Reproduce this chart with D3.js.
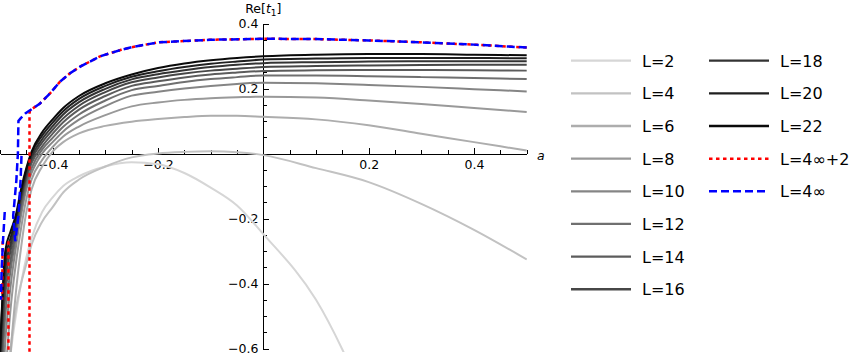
<!DOCTYPE html>
<meta charset="utf-8">
<style type="text/css">
body {
  margin: 0;
  background: #fff;
  font-family: "DejaVu Sans", sans-serif;
}

.axis path,
.axis line {
  fill: none;
  stroke: #000;
  stroke-width: 1px;
  shape-rendering: crispEdges;
}

.axis text {
  font-family: "DejaVu Sans", sans-serif;
  font-size: 12.5px;
  fill: #000;
}

.curve {
  fill: none;
  stroke-width: 2px;
}

.legend text {
  font-size: 16px;
  fill: #000;
}
</style>
<body>
</body>

<script src="https://cdn.jsdelivr.net/npm/d3@7"></script>
<script>
// shared a grid for the finite-L curves
var aGrid = [-0.5, -0.49, -0.48, -0.47, -0.46, -0.45, -0.44, -0.42, -0.4, -0.38, -0.35, -0.3,
             -0.25, -0.2, -0.15, -0.1, -0.05, 0, 0.1, 0.2, 0.3, 0.4, 0.5];

var L2  = [null, -0.8, -0.62, -0.5, -0.40, -0.32, -0.26, -0.18, -0.135, -0.10, -0.07, -0.04,
           -0.027, -0.033, -0.06, -0.105, -0.16, -0.248, -0.45, -0.78, null, null, null];
var L4  = [-0.9, -0.75, -0.6, -0.48, -0.40, -0.34, -0.28, -0.21, -0.165, -0.12, -0.08, -0.04,
           -0.012, 0.0, 0.005, 0.007, 0.004, -0.005, -0.045, -0.088, -0.155, -0.235, -0.326];
var L6  = [-1.2, -0.9, -0.62, -0.43, -0.29, -0.18, -0.11, -0.04, 0.006, 0.035, 0.062, 0.085,
           0.098, 0.106, 0.112, 0.116, 0.116, 0.113, 0.105, 0.087, 0.061, 0.035, 0.009];
var L8  = [-1.0, -0.7, -0.48, -0.34, -0.23, -0.14, -0.08, -0.02, 0.02, 0.052, 0.083, 0.118,
           0.145, 0.157, 0.165, 0.170, 0.173, 0.175, 0.172, 0.163, 0.152, 0.140, 0.128];
var L10 = [-0.9, -0.58, -0.41, -0.29, -0.19, -0.11, -0.06, 0.0, 0.035, 0.068, 0.104, 0.146,
           0.178, 0.190, 0.200, 0.208, 0.214, 0.218, 0.216, 0.211, 0.205, 0.198, 0.191];
var L12 = [-0.8, -0.50, -0.36, -0.26, -0.17, -0.095, -0.045, 0.012, 0.048, 0.082, 0.12, 0.163,
           0.195, 0.208, 0.220, 0.229, 0.235, 0.240, 0.240, 0.238, 0.235, 0.232, 0.229];
var L14 = [-0.75, -0.44, -0.33, -0.24, -0.155, -0.08, -0.03, 0.022, 0.061, 0.096, 0.135, 0.177,
           0.208, 0.222, 0.234, 0.243, 0.249, 0.254, 0.256, 0.257, 0.257, 0.256, 0.255];
var L16 = [-0.7, -0.40, -0.30, -0.225, -0.14, -0.07, -0.02, 0.034, 0.073, 0.108, 0.147, 0.189,
           0.219, 0.234, 0.246, 0.255, 0.261, 0.266, 0.269, 0.271, 0.272, 0.273, 0.273];
var L18 = [-0.65, -0.36, -0.28, -0.21, -0.13, -0.06, -0.01, 0.044, 0.084, 0.12, 0.158, 0.199,
           0.228, 0.244, 0.256, 0.266, 0.273, 0.278, 0.281, 0.283, 0.284, 0.284, 0.284];
var L20 = [-0.6, -0.33, -0.26, -0.20, -0.12, -0.05, 0.0, 0.055, 0.095, 0.13, 0.168, 0.208,
           0.236, 0.253, 0.266, 0.276, 0.283, 0.289, 0.292, 0.294, 0.294, 0.294, 0.293];
var L22 = [-0.62, -0.30, -0.24, -0.19, -0.11, -0.045, 0.006, 0.065, 0.105, 0.14, 0.177, 0.216,
           0.243, 0.263, 0.277, 0.287, 0.294, 0.299, 0.304, 0.306, 0.306, 0.304, 0.302];

// L = 4 infinity (blue dashed), null = break in the line
var blueA = [0.5, 0.4, 0.3, 0.2, 0.1, 0, -0.1, -0.2, -0.25, -0.27, -0.31, -0.347, -0.367, -0.386,
             -0.405, -0.424, -0.443, -0.452, -0.461, -0.465, -0.466, -0.469, -0.475, -0.471,
             -0.465, -0.461, -0.459, null, -0.491, -0.494, -0.497, -0.498];
var blueV = [0.326, 0.335, 0.342, 0.348, 0.352, 0.353, 0.350, 0.342, 0.327, 0.319, 0.299, 0.268,
             0.247, 0.221, 0.185, 0.154, 0.133, 0.123, 0.108, 0.10, 0.0, -0.084, -0.192, -0.27,
             -0.192, -0.084, 0.0, null, -0.18, -0.26, -0.36, -0.45];

// L = 4 infinity + 2 (red dotted)
var redA = [0.5, 0.4, 0.3, 0.2, 0.1, 0, -0.1, -0.2, -0.25, -0.27, -0.31, -0.347, -0.367, -0.386,
            -0.405, -0.424, -0.443, -0.444, -0.444, null, -0.484, -0.484, null, -0.495, -0.496];
var redV = [0.326, 0.335, 0.342, 0.348, 0.352, 0.353, 0.350, 0.342, 0.327, 0.319, 0.299, 0.268,
            0.247, 0.221, 0.185, 0.154, 0.133, 0.123, -0.62, null, -0.27, -0.62, null, -0.27, -0.45];

var labels = ["L=2", "L=4", "L=6", "L=8", "L=10", "L=12", "L=14", "L=16", "L=18", "L=20", "L=22"];
var grays = ["#d6d6d6", "#c2c2c2", "#adadad", "#999999", "#858585", "#707070",
             "#5c5c5c", "#474747", "#333333", "#1f1f1f", "#0a0a0a"];

var xTicksMajor = [-0.4, -0.2, 0.2, 0.4];
var yTicksMajor = [-0.6, -0.4, -0.2, 0.2, 0.4];

var series = [L2, L4, L6, L8, L10, L12, L14, L16, L18, L20, L22];

var width = 852, height = 354;

var svg = d3.select("body")
  .append("svg")
    .attr("width", width)
    .attr("height", height);

var xscale = d3.scaleLinear()
  .domain([-0.5, 0.5])
  .range([0, 526.7]);

var yscale = d3.scaleLinear()
  .domain([-0.6, 0.4])
  .range([348.5, 23.5]);

svg.append("clipPath")
    .attr("id", "plotclip")
  .append("rect")
    .attr("x", 0)
    .attr("y", 0)
    .attr("width", 527)
    .attr("height", 352);

var fmt = d3.format(".1f");

// minor ticks every 0.05
var minorX = d3.range(-10, 11).map(function(i) { return i * 0.05; })
  .filter(function(d) { return Math.abs(d) > 1e-9; });
var minorY = d3.range(-12, 9).map(function(i) { return i * 0.05; })
  .filter(function(d) { return Math.abs(d) > 1e-9; });

svg.append("g")
  .attr("class", "x axis")
  .attr("transform", "translate(0," + yscale(0) + ")")
  .call(d3.axisBottom(xscale).tickValues(minorX).tickSize(-4).tickSizeOuter(0).tickFormat(""));

svg.append("g")
  .attr("class", "x axis")
  .attr("transform", "translate(0," + yscale(0) + ")")
  .call(d3.axisBottom(xscale).tickValues(xTicksMajor).tickSize(-6).tickSizeOuter(0)
    .tickPadding(7).tickFormat(fmt));

svg.append("g")
  .attr("class", "y axis")
  .attr("transform", "translate(" + xscale(0) + ",0)")
  .call(d3.axisLeft(yscale).tickValues(minorY).tickSize(-4).tickSizeOuter(0).tickFormat(""));

svg.append("g")
  .attr("class", "y axis")
  .attr("transform", "translate(" + xscale(0) + ",0)")
  .call(d3.axisLeft(yscale).tickValues(yTicksMajor).tickSize(-6).tickSizeOuter(0)
    .tickPadding(5).tickFormat(fmt));

// axis labels
svg.append("text")
  .attr("x", 537)
  .attr("y", 160)
  .style("font-size", "12.5px")
  .style("font-style", "italic")
  .text("a");

var ylab = svg.append("text")
  .attr("x", xscale(0))
  .attr("y", 13)
  .attr("text-anchor", "middle")
  .style("font-size", "12.5px");
ylab.append("tspan").text("Re[");
ylab.append("tspan").style("font-style", "italic").text("t");
ylab.append("tspan").attr("dy", 3).style("font-size", "9px").text("1");
ylab.append("tspan").attr("dy", -3).text("]");

var plot = svg.append("g")
  .attr("clip-path", "url(#plotclip)");

var line = d3.line()
  .defined(function(d) { return d[1] != null; })
  .x(function(d) { return xscale(d[0]); })
  .y(function(d) { return yscale(d[1]); })
  .curve(d3.curveMonotoneX);

series.forEach(function(s, i) {
  plot.append("path")
    .datum(aGrid.map(function(a, j) { return [a, s[j]]; }))
    .attr("class", "curve")
    .attr("stroke", grays[i])
    .attr("d", line);
});

var rawLine = d3.line()
  .defined(function(d) { return d[0] != null && d[1] != null; })
  .x(function(d) { return xscale(d[0]); })
  .y(function(d) { return yscale(d[1]); });

plot.append("path")
  .datum(redA.map(function(a, j) { return [a, redV[j]]; }))
  .attr("fill", "none")
  .attr("stroke", "#ff0000")
  .attr("stroke-width", 2.5)
  .attr("stroke-dasharray", "3.5,3.5")
  .attr("d", rawLine);

plot.append("path")
  .datum(blueA.map(function(a, j) { return [a, blueV[j]]; }))
  .attr("fill", "none")
  .attr("stroke", "#0000ff")
  .attr("stroke-width", 2.5)
  .attr("stroke-dasharray", "8,4")
  .attr("d", rawLine);

// legend
var items = labels.map(function(l, i) {
  return { label: l, color: grays[i], dash: null };
});
items.push({ label: "L=4\u221e+2", color: "#ff0000", dash: "3.5,3.5" });
items.push({ label: "L=4\u221e", color: "#0000ff", dash: "8,4" });

var legend = svg.append("g")
  .attr("class", "legend");

var entry = legend.selectAll("g")
  .data(items)
  .enter().append("g")
  .attr("transform", function(d, i) {
    var col = i < 8 ? 0 : 1;
    var row = i < 8 ? i : i - 8;
    return "translate(" + (571 + col * 138) + "," + (60.7 + row * 32.65) + ")";
  });

entry.append("line")
  .attr("x1", 0)
  .attr("x2", 60)
  .attr("stroke", function(d) { return d.color; })
  .attr("stroke-width", function(d) { return d.dash ? 2.5 : 2.3; })
  .attr("stroke-dasharray", function(d) { return d.dash; });

entry.append("text")
  .attr("x", 71)
  .attr("y", 6)
  .text(function(d) { return d.label; });
</script>
